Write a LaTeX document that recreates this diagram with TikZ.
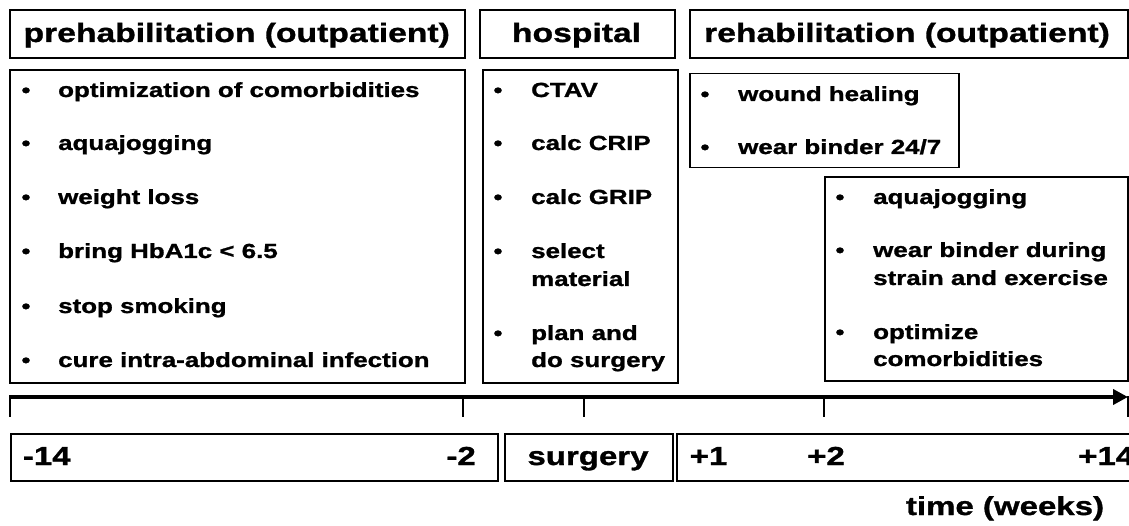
\documentclass[tikz,border=0pt]{standalone}
\usepackage{fontspec}
\setmainfont[FakeStretch=1.27,BoldFeatures={FakeBold=1.2}]{Liberation Sans}
\usetikzlibrary{arrows.meta}
\tikzset{
  frame/.style={draw=black, line width=1.8pt, inner sep=0pt, anchor=north west},
  ttl/.style={font=\fontsize{26.5}{30}\selectfont\bfseries, inner sep=0pt, anchor=base},
  itm/.style={font=\fontsize{20.4}{28}\selectfont\bfseries, inner sep=0pt, anchor=base west},
  bul/.style={font=\fontsize{20}{28}\selectfont\bfseries, inner sep=0pt, anchor=base},
  lbl/.style={font=\fontsize{26}{30}\selectfont\bfseries, inner sep=0pt},
  tick/.style={line width=2pt},
  axis/.style={line width=4pt, -{Triangle[length=15pt,width=15pt]}}
}
\begin{document}
\begin{tikzpicture}[x=1pt,y=-1pt]
\useasboundingbox (0,0) rectangle (1129,526);
\clip (0,0) rectangle (1129,526);

% title boxes
\node[frame, minimum width=454.7pt, minimum height=48pt] (preT) at (9.3,9) {};
\node[ttl] (preTt) at (236.7,42) {prehabilitation (outpatient)};
\node[frame, minimum width=195pt, minimum height=48pt] (hosT) at (479,9) {};
\node[ttl] (hosTt) at (576.5,42) {hospital};
\node[frame, minimum width=438pt, minimum height=48pt] (rehT) at (689,9) {};
\node[ttl] (rehTt) at (907,42) {rehabilitation (outpatient)};

% prehabilitation content
\node[frame, minimum width=454.7pt, minimum height=313pt] (preC) at (9.3,69) {};
\foreach \y/\t [count=\i] in {97/optimization of comorbidities, 150/aquajogging, 204/weight loss, 258/bring HbA1c < 6.5, 313/stop smoking, 367/cure intra-abdominal infection}{
  \node[bul] (pb\i) at (26,\y) {•};
  \node[itm] (pt\i) at (58,\y) {\t};
}

% hospital content
\node[frame, minimum width=195pt, minimum height=313pt] (hosC) at (481.7,69) {};
\foreach \y in {97,150,204,258,340}{ \node[bul] at (498,\y) {•}; }
\node[itm] (h1) at (531,97) {CTAV};
\node[itm] (h2) at (531,150) {calc CRIP};
\node[itm] (h3) at (531,204) {calc GRIP};
\node[itm] (h4a) at (531,258) {select};
\node[itm] (h4b) at (531,286) {material};
\node[itm] (h5a) at (531,340) {plan and};
\node[itm] (h5b) at (531,367) {do surgery};

% rehabilitation early
\node[frame, minimum width=269pt, minimum height=94pt] (wnd) at (689,72.7) {};
\node[bul] at (705,101) {•};
\node[itm] (w1) at (738,101) {wound healing};
\node[bul] at (705,154) {•};
\node[itm] (w2) at (738,154) {wear binder 24/7};

% rehabilitation late
\node[frame, minimum width=302.7pt, minimum height=204pt] (late) at (824,176) {};
\foreach \y in {204,257,339}{ \node[bul] at (840,\y) {•}; }
\node[itm] (l1) at (873,204) {aquajogging};
\node[itm] (l2a) at (873,257) {wear binder during};
\node[itm] (l2b) at (873,285) {strain and exercise};
\node[itm] (l3a) at (873,339) {optimize};
\node[itm] (l3b) at (873,366) {comorbidities};

% time axis
\coordinate (axL) at (9,397);
\coordinate (axR) at (1128,397);
\draw[axis] (axL) -- (axR);
\foreach \x [count=\i] in {9.6,463,583.6,824,1127.5}{
  \coordinate (ta\i) at (\x,396);
  \coordinate (tb\i) at (\x,417);
  \draw[tick] (ta\i) -- (tb\i);
}

% timeline boxes
\node[frame, minimum width=487.3pt, minimum height=46.7pt] (tPre) at (10,433.3) {};
\node[lbl, anchor=base west] (m14) at (22.7,465) {-14};
\node[lbl, anchor=base east] (m2) at (476,465) {-2};
\node[frame, minimum width=167.7pt, minimum height=46.7pt] (tSur) at (504,433.3) {};
\node[lbl, anchor=base] (sur) at (588,465) {surgery};
\node[frame, minimum width=470pt, minimum height=46.7pt] (tReh) at (676,433.3) {};
\node[lbl, anchor=base west] (p1) at (689.5,465) {+1};
\node[lbl, anchor=base west] (p2) at (807,465) {+2};
\node[lbl, anchor=base west] (p14) at (1078,465) {+14};

\node[lbl, anchor=base] (time) at (1005,515) {time (weeks)};
\end{tikzpicture}
\end{document}
